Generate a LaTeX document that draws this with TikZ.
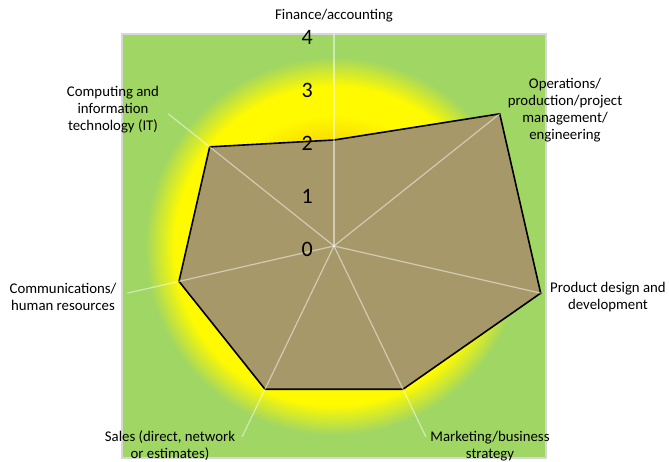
\documentclass[tikz,border=0pt]{standalone}
\usepackage{fontspec}
\setmainfont{Carlito}
\usetikzlibrary{calc}

\definecolor{chartgreen}{RGB}{160,214,99}
\definecolor{glowyellow}{RGB}{255,250,0}
\definecolor{glowcore}{RGB}{248,222,0}
\definecolor{areatan}{RGB}{166,152,104}
\definecolor{framegray}{RGB}{215,215,215}

\pgfdeclareradialshading{glow}{\pgfpoint{0bp}{0bp}}{%
  color(0bp)=(glowcore); color(12.5bp)=(glowcore); color(15.5bp)=(glowyellow);
  color(18.8bp)=(glowyellow); color(22.3bp)=(chartgreen); color(100bp)=(chartgreen)}

\tikzset{
  spoke/.style={draw=white, opacity=0.5, line width=1.2pt},
  axislabel/.style={font=\fontsize{14.8}{17}\selectfont, align=center, inner sep=0pt},
  ticklabel/.style={font=\fontsize{22}{22}\selectfont, anchor=east, inner sep=0pt},
}

\begin{document}
\begin{tikzpicture}[x=1pt,y=1pt]
\useasboundingbox (-334,-216) rectangle (335,246);
\shadedraw[shading=glow, draw=framegray, line width=1.5pt] (-212,-212) rectangle (212,212);

% axes and data points
\coordinate (o) at (0,0);
\foreach \i/\v in {1/2,2/4,3/4,4/3,5/3,6/3,7/3}{
  \coordinate (a\i) at ({90-(\i-1)*360/7}:212);
  \coordinate (v\i) at ({90-(\i-1)*360/7}:\v*53);
}
\filldraw[fill=areatan, draw=black, line width=1.6pt, line join=miter]
  (v1) -- (v2) -- (v3) -- (v4) -- (v5) -- (v6) -- (v7) -- cycle;
\foreach \i in {1,...,7}
  \draw[spoke] (o) -- (a\i);

% scale
\foreach \t in {0,...,4}
  \node[ticklabel] (t\t) at (-21,\t*53-3) {\t};

% category names
\node[axislabel] (finance) at (0,230) {Finance/accounting};
\node[axislabel] (operations) at (231,136) {Operations/\\production/project\\management/\\engineering};
\node[axislabel] (product) at (274,-51) {Product design and\\development};
\node[axislabel] (marketing) at (156,-200) {Marketing/business\\strategy};
\node[axislabel] (sales) at (-164,-200) {Sales (direct, network\\or estimates)};
\node[axislabel] (comms) at (-271,-51) {Communications/\\human resources};
\node[axislabel] (computing) at (-221,136) {Computing and\\information\\technology (IT)};
\end{tikzpicture}
\end{document}
